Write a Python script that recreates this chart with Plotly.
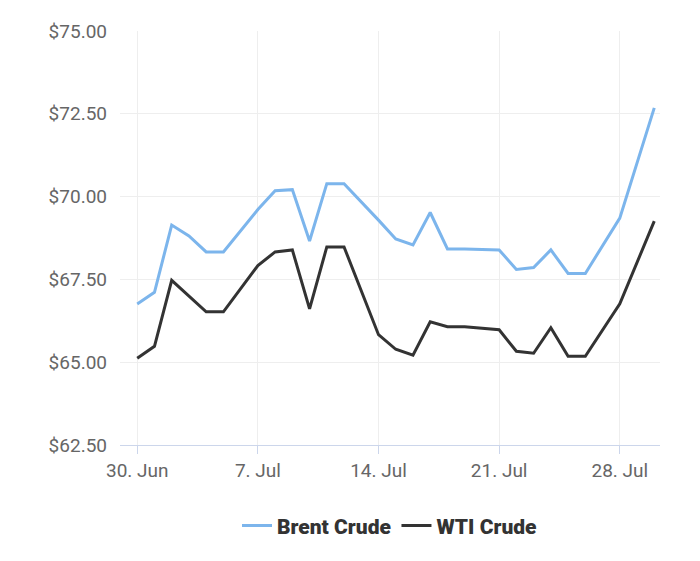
import plotly.graph_objects as go

dates = ["2025-06-30","2025-07-01","2025-07-02","2025-07-03","2025-07-04","2025-07-05",
         "2025-07-07","2025-07-08","2025-07-09","2025-07-10","2025-07-11","2025-07-12",
         "2025-07-14","2025-07-15","2025-07-16","2025-07-17","2025-07-18","2025-07-19",
         "2025-07-21","2025-07-22","2025-07-23","2025-07-24","2025-07-25","2025-07-26",
         "2025-07-28","2025-07-30"]
brent = [66.76,67.11,69.14,68.81,68.33,68.33,69.61,70.18,70.21,68.66,70.39,70.39,
         69.29,68.72,68.54,69.52,68.42,68.42,68.39,67.80,67.86,68.39,67.68,67.68,69.35,72.68]
wti = [65.12,65.48,67.47,67.00,66.52,66.52,67.92,68.33,68.39,66.61,68.48,68.48,
       65.83,65.39,65.21,66.22,66.07,66.07,65.98,65.33,65.27,66.04,65.18,65.18,66.76,69.26]
tickvals = ["2025-06-30","2025-07-07","2025-07-14","2025-07-21","2025-07-28"]
ticktext = ["30. Jun","7. Jul","14. Jul","21. Jul","28. Jul"]

fig = go.Figure()
fig.add_trace(go.Scatter(x=dates, y=brent, mode="lines", name="Brent Crude",
                         line=dict(color="#7cb5ec", width=3)))
fig.add_trace(go.Scatter(x=dates, y=wti, mode="lines", name="WTI Crude",
                         line=dict(color="#333333", width=3)))
fig.update_layout(
    width=700, height=561, plot_bgcolor="white", paper_bgcolor="white",
    margin=dict(l=112, r=48, t=17, b=124),
    font=dict(family="Roboto", size=19, color="#666666"),
    xaxis=dict(range=["2025-06-29","2025-07-30 08:00"], tickvals=tickvals, ticktext=ticktext,
               showgrid=True, gridcolor="#eeeeee", showline=True, linecolor="#ccd6eb",
               ticks="outside", tickcolor="#ccd6eb", ticklen=8, zeroline=False),
    yaxis=dict(range=[62.5,75], tickvals=[62.5,65,67.5,70,72.5,75],
               ticktext=["$62.50","$65.00","$67.50","$70.00","$72.50","$75.00"],
               showgrid=True, gridcolor="#eeeeee", zeroline=False, ticklabelstandoff=12),
    legend=dict(orientation="h", x=0.5, xanchor="center", y=-0.195, yanchor="middle",
                font=dict(size=21, color="#333333", family="Roboto Black, Roboto"),
                itemwidth=30, entrywidth=0),
)
fig.write_html("out.html")
